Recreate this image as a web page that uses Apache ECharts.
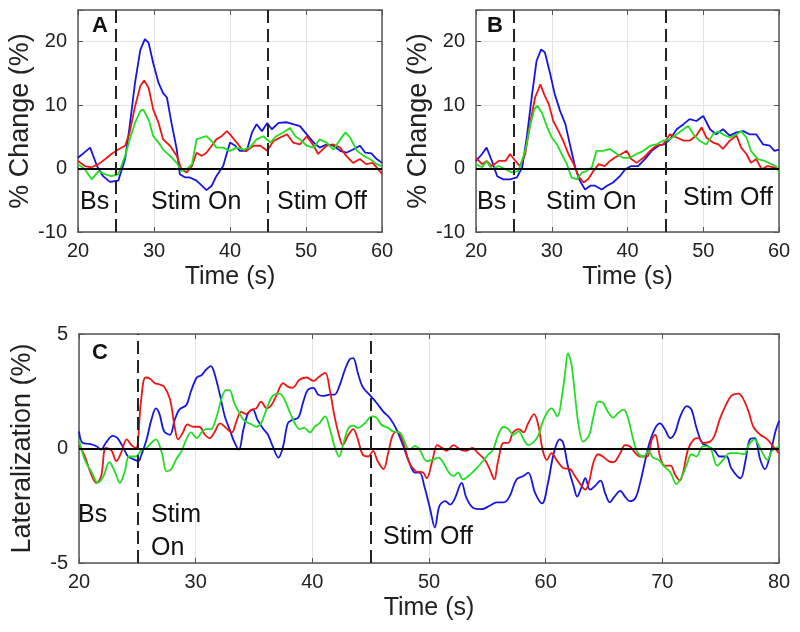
<!DOCTYPE html>
<html><head><meta charset="utf-8">
<script src="https://cdn.jsdelivr.net/npm/echarts@6/dist/echarts.min.js"></script>
<style>html,body{margin:0;padding:0;background:#fff}#c{width:800px;height:632px}</style>
</head><body><div id="c"></div>
<script>
// ---- tick definitions ----
const xTicksAB = [20, 30, 40, 50, 60];
const yTicksAB = [-10, 0, 10, 20];
const yMaxAB = 25;
const xTicksC = [20, 30, 40, 50, 60, 70, 80];
const yTicksC = [-5, 0, 5];
const stimOn = 25, stimOff = 45;

// ---- panel A: % change ----
const aBlue = [[20,1.7],[20.9,2.6],[21.6,3.3],[22.5,0.4],[23.3,-1.2],[24.2,-2.1],[25.3,-1.9],[26.2,1.5],[26.8,6.7],[27.5,13.5],[28.2,18.7],[28.8,20.4],[29.3,19.8],[29.9,16.6],[30.6,13.5],[31.2,11.9],[31.7,11.2],[32.3,7.2],[33.0,3.0],[33.4,-0.9],[34.1,-1.4],[34.7,-1.4],[35.6,-1.9],[36.3,-2.7],[36.9,-3.4],[37.6,-2.7],[38.2,-1.2],[39.1,0.4],[40.0,4.1],[40.7,3.6],[41.3,2.8],[42.2,2.8],[42.9,5.7],[43.5,7.0],[44.2,5.9],[44.9,7.2],[45.5,6.2],[46.4,7.2],[47.5,7.3],[48.3,7.0],[49.2,6.7],[50.1,5.4],[51.0,4.1],[51.8,3.3],[52.7,3.8],[53.6,3.6],[54.5,2.8],[55.3,2.5],[56.2,3.0],[57.1,3.6],[57.8,2.5],[58.6,2.4],[59.3,1.5],[60,0.9]];
const aRed = [[20,1.2],[20.9,0.4],[21.8,0.2],[22.7,0.7],[23.6,1.5],[24.4,2.3],[25.3,3.0],[26.2,3.6],[26.8,5.7],[27.5,9.8],[28.2,13.0],[28.7,13.9],[29.3,12.7],[29.9,9.3],[30.6,7.2],[31.2,4.6],[32.1,3.6],[33.0,2.0],[33.6,-0.1],[34.3,-0.6],[35.0,0.4],[35.6,2.5],[36.3,2.0],[36.9,2.5],[37.6,3.6],[38.2,4.6],[38.9,5.1],[39.6,5.9],[40.2,5.1],[40.9,4.1],[41.6,3.0],[42.2,2.8],[43.1,3.6],[44.0,3.6],[44.9,2.8],[45.7,4.3],[46.6,4.9],[47.5,5.4],[48.3,4.1],[49.2,3.8],[50.1,5.1],[51.0,3.6],[51.6,2.3],[52.7,3.6],[53.6,3.8],[54.5,3.3],[55.3,2.0],[56.2,0.9],[57.1,1.5],[57.9,0.7],[58.8,0.9],[59.7,-0.4],[60,-0.8]];
const aGreen = [[20,0.7],[20.9,-0.1],[21.8,-1.7],[22.7,-0.4],[23.6,-0.9],[24.4,-1.2],[25.3,-0.9],[26.2,2.0],[26.8,4.6],[27.5,7.2],[28.2,9.1],[28.6,9.3],[29.3,7.7],[29.9,5.1],[30.6,4.1],[31.2,3.0],[32.1,2.0],[33.0,0.9],[33.6,-0.4],[34.3,-0.1],[35.0,0.7],[35.6,4.6],[36.3,4.9],[36.9,5.1],[37.6,4.3],[38.2,3.3],[39.1,3.3],[40.0,2.8],[40.9,3.3],[41.8,3.0],[42.6,3.3],[43.5,4.6],[44.4,5.1],[45.3,4.1],[46.1,5.1],[47.0,5.7],[47.9,6.4],[48.6,5.1],[49.2,4.6],[50.1,3.6],[51.0,3.3],[51.8,4.6],[52.7,4.1],[53.6,3.0],[54.5,4.6],[55.2,5.7],[55.8,4.9],[56.7,2.8],[57.6,2.0],[58.4,1.5],[59.3,0.7],[60,0.4]];

// ---- panel B: % change ----
const bBlue = [[20,1.2],[20.8,2.3],[21.4,3.3],[22.1,1.2],[22.8,-1.2],[23.6,-1.7],[24.5,-1.7],[25.4,-1.4],[26.1,0.2],[26.7,4.9],[27.4,11.7],[28.0,17.0],[28.6,18.8],[29.1,18.3],[29.8,14.9],[30.4,11.7],[31.1,9.1],[31.8,7.0],[32.4,3.8],[33.1,0.2],[33.7,-1.9],[34.4,-3.3],[35.1,-2.7],[35.7,-2.7],[36.6,-3.3],[37.3,-2.7],[38.1,-2.2],[39.0,-1.2],[39.7,-0.1],[40.5,0.4],[41.4,0.4],[42.3,1.5],[43.2,2.8],[44.1,3.6],[44.8,3.8],[45.6,4.6],[46.5,6.2],[47.4,7.0],[48.2,7.8],[49.1,7.5],[50.0,8.3],[50.9,6.2],[51.7,5.4],[52.6,6.2],[53.5,5.2],[54.4,5.7],[55.3,5.9],[56.1,5.4],[57.0,5.4],[57.9,3.8],[58.8,3.6],[59.4,2.8],[60,3.0]];
const bRed = [[20,1.7],[20.8,0.7],[21.4,1.2],[22.1,0.4],[23.0,1.2],[23.9,1.2],[24.5,2.3],[25.2,1.2],[25.8,0.4],[26.5,2.3],[27.2,7.5],[27.8,11.2],[28.5,13.3],[29.0,11.7],[29.6,10.2],[30.2,7.5],[30.9,5.9],[31.5,4.4],[32.2,2.3],[32.9,0.7],[33.5,-1.2],[34.2,-2.2],[34.8,-1.7],[35.5,-0.4],[36.2,0.7],[37.0,0.4],[37.7,1.2],[38.3,1.7],[39.2,2.3],[39.9,2.8],[40.5,1.5],[41.2,0.9],[42.1,1.7],[43.0,2.8],[43.8,3.6],[44.7,3.8],[45.6,5.4],[46.5,4.9],[47.4,4.4],[48.2,4.4],[49.1,5.2],[49.8,6.5],[50.4,4.9],[51.3,4.1],[52.0,3.8],[52.6,3.1],[53.5,4.4],[54.4,5.2],[55.0,3.3],[55.7,2.3],[56.3,0.9],[57.0,1.5],[57.7,-0.1],[58.5,0.4],[59.4,0.2],[60,-0.1]];
const bGreen = [[20,0.7],[20.8,0.2],[21.4,1.2],[22.1,-0.1],[23.0,0.4],[23.9,-0.1],[24.7,-0.6],[25.6,-0.4],[26.5,2.8],[27.2,7.0],[27.7,9.4],[28.1,9.9],[28.7,8.8],[29.4,6.5],[30.0,4.9],[30.7,3.8],[31.3,2.3],[32.0,0.7],[32.6,-1.4],[33.3,-1.7],[34.0,-0.6],[34.6,-0.4],[35.3,0.2],[35.9,2.8],[36.8,2.8],[37.7,3.1],[38.6,2.3],[39.4,1.7],[40.3,1.7],[41.2,2.3],[42.1,2.8],[43.0,3.6],[43.8,3.8],[44.7,4.4],[45.6,4.6],[46.5,5.4],[47.4,6.2],[48.0,6.7],[48.7,5.4],[49.5,4.4],[50.4,3.8],[51.3,5.4],[52.0,5.9],[52.6,5.4],[53.5,4.9],[54.4,5.4],[55.0,5.9],[55.7,4.9],[56.3,2.8],[57.2,1.5],[58.1,1.2],[59.0,0.7],[59.6,0.4],[60,-0.6]];

// ---- panel C: lateralization ----
const cBlue = [[20,0.75],[20.3,0.25],[20.9,0.2],[21.5,0.1],[21.9,-0.05],[22.3,0.25],[22.9,0.55],[23.3,0.45],[23.8,0.03],[24.2,-0.35],[24.6,-0.45],[25.1,-0.55],[25.3,-0.35],[25.8,0.4],[26.2,1.25],[26.6,1.75],[26.9,1.5],[27.3,0.75],[27.8,0.6],[28.2,1.25],[28.6,1.7],[29.2,1.9],[29.6,2.5],[30.1,3.1],[30.5,3.2],[30.9,3.45],[31.3,3.6],[31.6,3.3],[32.1,2.3],[32.5,1.4],[32.9,0.85],[33.3,0.3],[33.7,-0.05],[34.1,0.85],[34.5,1.55],[34.9,1.7],[35.3,1.25],[35.8,0.85],[36.2,0.6],[36.6,0.1],[37.1,-0.4],[37.5,0.1],[37.9,1.1],[38.3,1.25],[38.8,1.35],[39.2,2.0],[39.6,2.55],[40.1,2.65],[40.5,2.35],[40.9,2.3],[41.5,2.35],[41.9,2.35],[42.3,2.7],[42.8,3.45],[43.2,3.9],[43.5,3.95],[43.9,3.3],[44.3,2.7],[44.9,2.35],[45.5,2.0],[46.1,1.6],[46.6,1.35],[47.2,0.85],[47.8,0.1],[48.3,-0.6],[48.8,-1.05],[49.2,-1.05],[49.6,-1.65],[50.1,-2.65],[50.5,-3.45],[50.9,-2.5],[51.4,-2.3],[51.8,-2.45],[52.2,-2.2],[52.8,-1.5],[53.2,-2.15],[53.8,-2.6],[54.5,-2.65],[55.2,-2.5],[55.8,-2.35],[56.4,-2.35],[56.9,-2.1],[57.5,-1.35],[58.1,-1.2],[58.5,-1.05],[59.1,-1.95],[59.7,-2.4],[60.2,-1.5],[60.7,-0.2],[61.2,0.4],[61.5,0.25],[61.9,-0.75],[62.4,-1.65],[62.7,-2.1],[63.1,-1.65],[63.4,-1.3],[63.8,-1.8],[64.2,-1.65],[64.7,-1.4],[65.1,-1.95],[65.5,-2.35],[65.9,-2.1],[66.4,-1.85],[66.8,-2.1],[67.2,-2.3],[67.7,-2.15],[68.1,-1.5],[68.5,-0.6],[68.9,0.25],[69.4,0.9],[69.8,1.1],[70.2,0.85],[70.7,0.45],[71.1,0.7],[71.5,1.35],[72.1,1.85],[72.5,1.7],[72.9,0.95],[73.4,0.25],[73.9,0.1],[74.5,-0.1],[74.9,-0.35],[75.5,-0.35],[75.9,-0.85],[76.7,-1.3],[77.1,-0.6],[77.5,0.4],[77.9,0.45],[78.4,-0.5],[78.8,-0.9],[79.2,-0.35],[79.7,0.75],[80,1.2]];
const cRed = [[20,0.15],[20.5,-0.35],[21.1,-1.2],[21.5,-1.5],[21.9,-1.2],[22.3,0.03],[22.8,-0.1],[23.2,-0.55],[23.6,-0.2],[24.1,0.4],[24.5,0.15],[24.9,0.03],[25.3,2.0],[25.7,3.1],[26.1,3.05],[26.5,2.85],[26.9,2.8],[27.3,2.7],[27.8,2.15],[28.2,0.95],[28.5,0.4],[28.9,0.7],[29.3,1.05],[29.8,0.95],[30.3,0.95],[30.8,0.6],[31.2,0.45],[31.6,0.7],[32.1,1.1],[32.6,0.9],[33.1,0.7],[33.5,1.2],[33.9,1.6],[34.3,1.5],[34.8,1.7],[35.2,1.75],[35.6,2.05],[36.1,1.75],[36.5,1.9],[36.9,2.3],[37.5,2.85],[37.9,2.7],[38.3,2.65],[38.9,3.0],[39.5,3.1],[40.1,2.95],[40.5,3.1],[41.1,3.3],[41.5,2.55],[41.9,1.4],[42.3,0.55],[42.6,0.15],[43.1,0.6],[43.5,0.85],[43.9,0.4],[44.3,-0.25],[44.8,-0.35],[45.2,-0.1],[45.6,-0.55],[46.1,-0.9],[46.5,-0.2],[46.9,0.6],[47.3,0.75],[47.8,0.25],[48.3,-0.6],[48.9,-1.0],[49.5,-1.05],[49.8,-1.3],[50.3,-0.5],[50.7,0.15],[51.1,0.03],[51.5,-0.1],[52.1,0.15],[52.7,-0.05],[53.2,-0.1],[53.7,0.03],[54.2,-0.2],[54.8,-0.5],[55.2,-0.9],[55.6,-1.35],[55.9,-0.6],[56.4,0.25],[56.8,0.25],[57.2,0.7],[57.7,0.85],[58.1,0.7],[58.5,1.1],[59.0,1.5],[59.4,0.95],[59.7,0.03],[60.1,-0.5],[60.5,-0.2],[61.0,-0.55],[61.5,-0.85],[62.1,-0.9],[62.5,-1.2],[62.9,-1.5],[63.4,-1.8],[63.7,-1.5],[64.1,-0.6],[64.5,-0.25],[64.9,-0.35],[65.4,-0.55],[65.8,-0.6],[66.4,-0.2],[66.8,0.15],[67.2,0.1],[67.7,-0.2],[68.1,-0.35],[68.7,-0.35],[69.1,0.4],[69.4,0.6],[69.8,-0.35],[70.2,-0.75],[70.7,-0.75],[71.1,-1.15],[71.5,-1.4],[71.8,-1.0],[72.2,-0.05],[72.7,0.4],[73.1,0.45],[73.5,0.25],[74.1,0.3],[74.5,0.6],[74.9,1.25],[75.4,1.85],[75.9,2.3],[76.5,2.4],[76.9,2.2],[77.4,1.6],[77.8,0.95],[78.4,0.6],[79.0,0.4],[79.4,0.15],[80,-0.2]];
const cGreen = [[20,0.4],[20.5,-0.5],[21.1,-1.05],[21.6,-1.5],[22.1,-1.2],[22.6,-0.6],[23.1,-1.05],[23.5,-1.5],[23.9,-1.05],[24.3,-0.35],[24.9,-0.35],[25.3,-0.1],[25.8,0.03],[26.2,0.25],[26.6,0.4],[27.1,-0.2],[27.5,-1.0],[27.9,-0.9],[28.3,-0.5],[28.8,-0.1],[29.2,0.4],[29.6,0.7],[30.1,0.45],[30.5,0.7],[30.9,0.85],[31.3,0.85],[31.8,1.4],[32.2,2.15],[32.6,2.55],[32.9,2.55],[33.3,2.0],[33.8,1.5],[34.2,1.2],[34.8,1.05],[35.2,0.95],[35.6,1.1],[36.1,1.75],[36.6,2.3],[37.2,2.4],[37.6,2.15],[38.1,1.55],[38.5,1.1],[38.9,0.85],[39.3,0.9],[39.8,0.7],[40.2,0.95],[40.6,1.1],[41.1,1.4],[41.5,0.85],[41.9,0.1],[42.3,-0.35],[42.6,0.1],[43.1,0.9],[43.5,1.0],[43.9,0.9],[44.5,1.1],[45.1,1.4],[45.5,1.35],[45.9,1.05],[46.5,0.9],[46.9,0.75],[47.5,0.7],[47.9,0.3],[48.3,-0.05],[48.8,0.1],[49.2,-0.05],[49.8,-0.55],[50.3,-0.5],[50.8,-0.4],[51.2,-0.6],[51.7,-1.05],[52.1,-1.2],[52.5,-1.05],[52.9,-1.35],[53.5,-1.15],[54.1,-0.85],[54.7,-0.5],[55.1,-0.25],[55.5,-0.05],[55.9,0.55],[56.4,0.95],[56.8,0.85],[57.2,0.6],[57.7,0.75],[58.1,0.4],[58.5,0.15],[59.0,0.3],[59.4,0.6],[59.7,1.1],[60.1,1.55],[60.5,1.75],[61.0,1.4],[61.4,2.3],[61.7,3.45],[61.9,4.15],[62.2,3.7],[62.5,2.4],[62.8,1.1],[63.2,0.3],[63.7,0.55],[64.1,1.4],[64.5,2.05],[64.9,2.0],[65.4,1.55],[65.8,1.35],[66.2,1.55],[66.7,1.7],[67.1,1.25],[67.5,0.4],[67.9,-0.2],[68.4,-0.35],[68.8,-0.1],[69.2,-0.4],[69.7,-0.5],[70.1,-0.75],[70.7,-1.05],[71.2,-1.55],[71.7,-1.2],[72.1,-0.7],[72.5,-0.25],[72.9,-0.35],[73.5,0.1],[74.1,0.03],[74.7,-0.75],[75.2,-0.5],[75.8,-0.2],[76.4,-0.2],[77.0,-0.25],[77.4,0.15],[77.9,0.4],[78.1,0.3],[78.6,-0.2],[79.0,-0.5],[79.4,-0.1],[80,0.1]];

// ---- styling / layout ----
const FONT = '"Liberation Sans", Arial, Helvetica, sans-serif';
const BLUE = '#1515e0', RED = '#ee1515', GREEN = '#22dd22';
const AXC = '#555';

const grids = [
  {left: 78, top: 10, width: 304, height: 222},
  {left: 476, top: 10, width: 303, height: 222},
  {left: 79, top: 334, width: 700, height: 229}
];

function xAxes(gi, ticks, gap) {
  const min = ticks[0], max = ticks[ticks.length - 1], interval = ticks[1] - ticks[0];
  const base = {type: 'value', gridIndex: gi, min, max, interval,
    axisLine: {show: true, onZero: false, lineStyle: {color: AXC, width: 1.5}},
    axisTick: {show: true, inside: true, length: 5, lineStyle: {color: AXC, width: 1}}};
  return [
    Object.assign({}, base, {position: 'bottom',
      axisLabel: {show: true, margin: 9, fontSize: 20, color: '#222', fontFamily: FONT},
      splitLine: {show: true, lineStyle: {color: '#e3e3e3', width: 1}},
      name: 'Time (s)', nameLocation: 'middle', nameGap: 33,
      nameTextStyle: {fontSize: 25, color: '#222', fontFamily: FONT}}),
    Object.assign({}, base, {position: 'top', axisLabel: {show: false}, splitLine: {show: false}})
  ];
}
function yAxes(gi, ticks, max, name, gap) {
  const min = ticks[0], interval = ticks[1] - ticks[0];
  const base = {type: 'value', gridIndex: gi, min, max, interval,
    axisLine: {show: true, onZero: false, lineStyle: {color: AXC, width: 1.5}},
    axisTick: {show: true, inside: true, length: 5, lineStyle: {color: AXC, width: 1}}};
  return [
    Object.assign({}, base, {position: 'left',
      axisLabel: {show: true, margin: 11, fontSize: 20, color: '#222', fontFamily: FONT,
        formatter: v => (ticks.indexOf(v) >= 0 ? String(v) : '')},
      splitLine: {show: true, lineStyle: {color: '#e3e3e3', width: 1}},
      name, nameLocation: 'middle', nameGap: gap,
      nameTextStyle: {fontSize: 27, color: '#222', fontFamily: FONT}}),
    Object.assign({}, base, {position: 'right', axisLabel: {show: false}, splitLine: {show: false}})
  ];
}

const xAxis = [].concat(xAxes(0, xTicksAB), xAxes(1, xTicksAB), xAxes(2, xTicksC));
const yAxis = [].concat(
  yAxes(0, yTicksAB, yMaxAB, '% Change (%)', 42),
  yAxes(1, yTicksAB, yMaxAB, '% Change (%)', 42),
  yAxes(2, yTicksC, yTicksC[yTicksC.length - 1], 'Lateralization (%)', 43));

function lineSeries(data, color, xi, yi, smooth) {
  return {type: 'line', data, xAxisIndex: xi, yAxisIndex: yi, showSymbol: false,
    smooth: smooth, silent: true, animation: false, z: 3,
    lineStyle: {color, width: 1.8}};
}
function refSeries(xi, yi) {
  return {type: 'line', data: [], xAxisIndex: xi, yAxisIndex: yi, silent: true, animation: false, z: 4,
    markLine: {symbol: 'none', silent: true, animation: false, label: {show: false},
      data: [
        {yAxis: 0, lineStyle: {color: '#000', width: 2, type: 'solid'}},
        {xAxis: stimOn, lineStyle: {color: '#222', width: 2, type: [13, 6]}},
        {xAxis: stimOff, lineStyle: {color: '#222', width: 2, type: [13, 6]}}
      ]}};
}

const series = [
  lineSeries(aBlue, BLUE, 0, 0, false), lineSeries(aRed, RED, 0, 0, false), lineSeries(aGreen, GREEN, 0, 0, false), refSeries(0, 0),
  lineSeries(bBlue, BLUE, 2, 2, false), lineSeries(bRed, RED, 2, 2, false), lineSeries(bGreen, GREEN, 2, 2, false), refSeries(2, 2),
  lineSeries(cBlue, BLUE, 4, 4, 0.35), lineSeries(cRed, RED, 4, 4, 0.35), lineSeries(cGreen, GREEN, 4, 4, 0.35), refSeries(4, 4)
];

function txt(text, left, top, size, bold) {
  return {type: 'text', left, top, z: 10, silent: true,
    style: {text, fill: '#111', font: (bold ? 'bold ' : '') + size + 'px ' + FONT}};
}
const graphic = [
  txt('A', 92, 15, 22, true), txt('B', 487, 15, 22, true), txt('C', 92, 342, 22, true),
  txt('Bs', 80, 190, 25), txt('Stim On', 151, 190, 25), txt('Stim Off', 277, 190, 25),
  txt('Bs', 477, 190, 25), txt('Stim On', 546, 190, 25), txt('Stim Off', 683, 186, 25),
  txt('Bs', 78, 503, 25), txt('Stim', 151, 503, 25), txt('On', 151, 536, 25), txt('Stim Off', 383, 525, 25)
];

const chart = echarts.init(document.getElementById('c'), null, {renderer: 'canvas'});
chart.setOption({
  animation: false,
  backgroundColor: '#fff',
  grid: grids.map(g => Object.assign({containLabel: false}, g)),
  xAxis, yAxis, series, graphic
});
</script></body></html>
